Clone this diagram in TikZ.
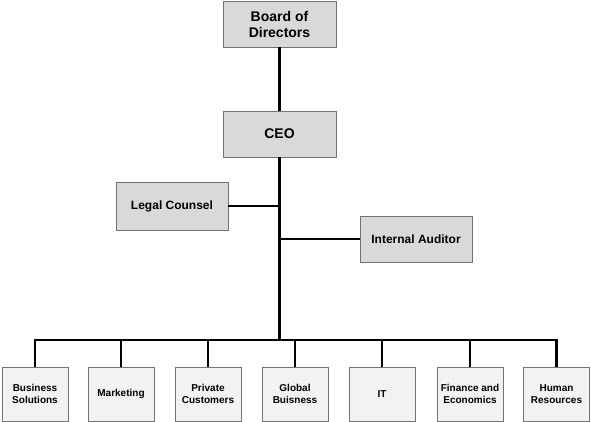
\documentclass[tikz,border=0pt]{standalone}
\usepackage{fontspec}
\setmainfont{Liberation Sans}
\begin{document}
\begin{tikzpicture}[x=1pt,y=-1pt,
    topbox/.style={draw=black!55,fill=black!15,line width=0.8pt,
                   minimum width=113pt,minimum height=46pt,align=center,
                   font=\fontsize{14}{16}\selectfont\bfseries},
    staffbox/.style={topbox,minimum width=112pt,
                     font=\fontsize{12}{14}\selectfont\bfseries},
    dept/.style={draw=black!55,fill=black!5,line width=0.8pt,
                 minimum width=66pt,minimum height=54pt,align=center,
                 font=\fontsize{10}{12.5}\selectfont\bfseries},
    link/.style={black,line width=2.2pt}]
  \useasboundingbox (0,0) rectangle (591,422);
  %-------------------------------------------------- top of the chart
  \node[topbox] (board) at (279.5,24) {Board of\\Directors};
  \node[topbox] (ceo)   at (279.5,134) {CEO};
  \node[staffbox,minimum height=48pt] (legal) at (172,206) {Legal Counsel};
  \node[staffbox] (audit) at (416,239) {Internal Auditor};
  \coordinate (hub) at (279.5,340);
  \draw[link] (board) -- (ceo);
  \draw[link] (ceo) -- (hub);
  \draw[link] (legal.east) -- (legal.east -| ceo);
  \draw[link] (audit.west) -- (audit.west -| ceo);
  %-------------------------------------------------- departments
  \foreach \i/\x/\txt in {1/35/Business\\Solutions, 2/121/Marketing,
      3/208/Private\\Customers, 4/295/Global\\Buisness, 5/382/IT,
      6/470/Finance and\\Economics, 7/556.5/Human\\Resources}{
    \node[dept] (d\i) at (\x,394) {\txt};
    \draw[link] (hub) -| (d\i.north);
  }
\end{tikzpicture}
\end{document}
